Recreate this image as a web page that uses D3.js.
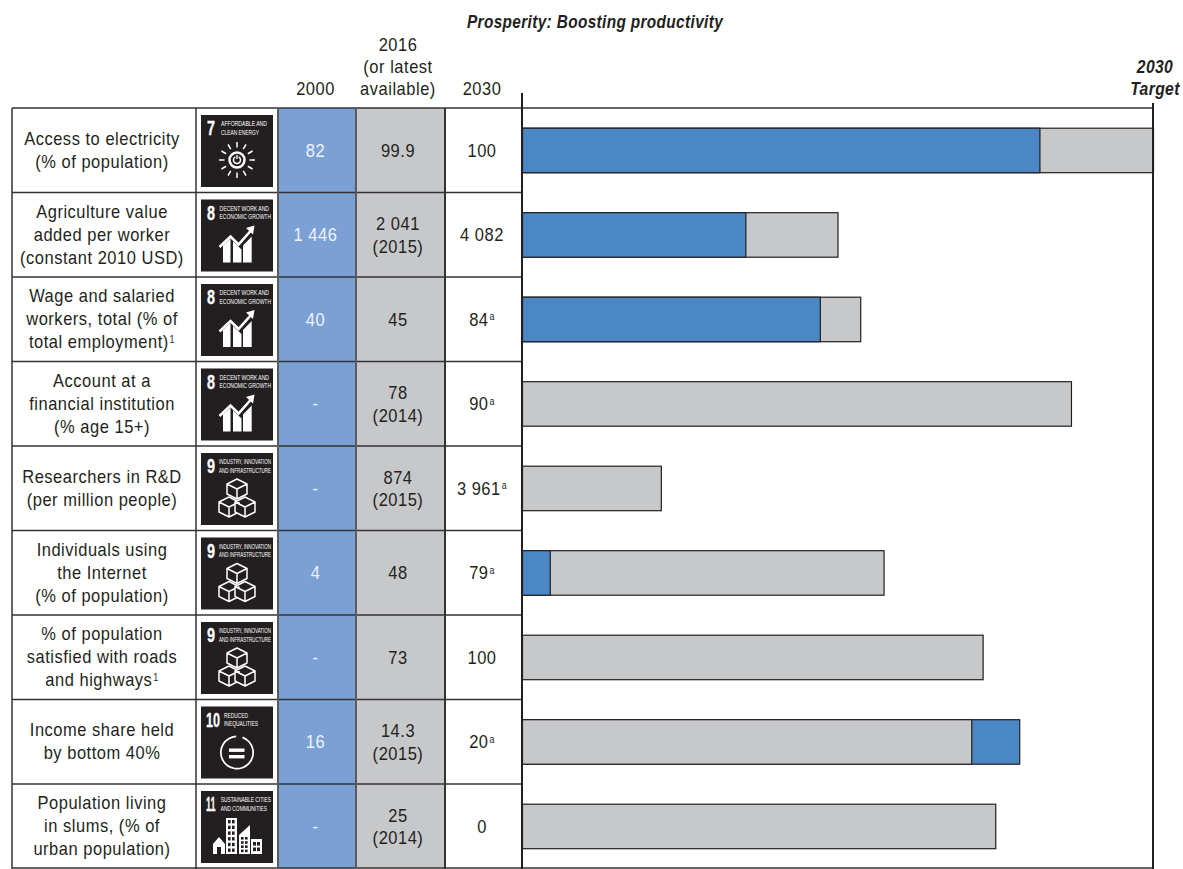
<!DOCTYPE html>
<html><head><meta charset="utf-8">
<script src="https://cdn.jsdelivr.net/npm/d3@7"></script>
<style>html,body{margin:0;background:#fff}svg{display:block}
text{font-family:"Liberation Sans",sans-serif;fill:#231f20}</style></head>
<body><svg id="c" width="1183" height="869"></svg>
<script>
const labels=[["Access to electricity","(% of population)"],["Agriculture value","added per worker","(constant 2010 USD)"],["Wage and salaried","workers, total (% of","total employment)|1"],["Account at a","financial institution","(% age 15+)"],["Researchers in R&D","(per million people)"],["Individuals using","the Internet","(% of population)"],["% of population","satisfied with roads","and highways|1"],["Income share held","by bottom 40%"],["Population living","in slums, (% of","urban population)"]];
const goals=[7,8,8,8,9,9,9,10,11];
const goalTitles={7:["AFFORDABLE AND","CLEAN ENERGY"],8:["DECENT WORK AND","ECONOMIC GROWTH"],9:["INDUSTRY, INNOVATION","AND INFRASTRUCTURE"],10:["REDUCED","INEQUALITIES"],11:["SUSTAINABLE CITIES","AND COMMUNITIES"]};
const col2000=["82","1 446","40","-","-","4","-","16","-"];
const colLatest=[["99.9"],["2 041","(2015)"],["45"],["78","(2014)"],["874","(2015)"],["48"],["73"],["14.3","(2015)"],["25","(2014)"]];
const col2030=["100","4 082","84|a","90|a","3 961|a","79|a","100","20|a","0"];
// progress towards target (percent of bar track)
const bar2000=[82,35.4,47.2,null,null,4.4,null,78.8,null];
const barLatest=[100,50,53.6,87,22,57.3,73,71.2,75];
const headers=[{x:315.5,lines:["2000"]},{x:398,lines:["2016","(or latest","available)"]},{x:482,lines:["2030"]}];

const ink="#231f20",blueCell="#7ba0d3",greyCell="#c6c8ca",blueBar="#4b86c5",greyBar="#c6c8ca";
const svg=d3.select("#c");
const n=labels.length;
const y=d3.scaleBand().domain(d3.range(n)).range([108,868.5]);
const x=d3.scaleLinear().domain([0,100]).range([522.5,1153.5]);
const colX=[12,196,278,356,445,522];
const fs=18.5, ls="0.6px", sx=0.89;

svg.selectAll(".c2000").data(d3.range(n)).join("rect").attr("x",colX[2]).attr("width",colX[3]-colX[2]).attr("y",i=>y(i)).attr("height",y.step()).attr("fill",blueCell);
svg.selectAll(".cLat").data(d3.range(n)).join("rect").attr("x",colX[3]).attr("width",colX[4]-colX[3]).attr("y",i=>y(i)).attr("height",y.step()).attr("fill",greyCell);

function line(x1,y1,x2,y2,w=1.5,c=ink){svg.append("line").attr("x1",x1).attr("y1",y1).attr("x2",x2).attr("y2",y2).attr("stroke",c).attr("stroke-width",w);}

d3.range(n+1).forEach(i=>{const yy=i==n?868:y(i);line(colX[0],yy,i==0||i==n?1153:colX[5],yy,1.5,"#333335");});
colX.slice(0,5).forEach((cx,i)=>line(cx,108,cx,869,i>=2?2:1.5,i==3||i==2?"#5a5b5e":"#333335"));
const bars=svg.append("g");
d3.range(n).forEach(i=>{
  const bh=44.5, by=y(i)+y.step()/2-bh/2+0.2;
  const mk=(v,f)=>bars.append("rect").attr("x",x(0)).attr("y",by).attr("width",x(v)-x(0)).attr("height",bh).attr("fill",f).attr("stroke",ink).attr("stroke-width",1.2);
  const a=bar2000[i],b=barLatest[i];
  if(a!=null&&a>b){mk(a,blueBar);mk(b,greyBar);}
  else{mk(b,greyBar);if(a!=null)mk(a,blueBar);}
});
line(522,93,522,869,2);
line(1153,103,1153,869,2);

function txt(s,cx,by,opt={}){
  const [m,sup]=s.split("|");
  const t=svg.append("text").attr("transform",`translate(${cx},${by}) scale(${opt.sx||sx},1)`).attr("text-anchor","middle").attr("font-size",opt.size||fs).attr("letter-spacing",ls).style("fill",opt.fill||ink);
  t.append("tspan").text(m);
  if(sup)t.append("tspan").attr("dy",-5.5).attr("dx",1).attr("font-size",10).text(sup);
  return t;
}
function block(lines,cx,cy,lh=23,opt){
  const h=(lines.length-1)*lh;
  lines.forEach((l,i)=>txt(l,cx,cy-h/2+i*lh+6.5,opt));
}
headers.forEach(h=>{const k=h.lines.length;h.lines.forEach((l,i)=>txt(l,h.x,94.5-(k-1-i)*22));});
svg.append("text").attr("transform","translate(595,28) scale(0.88,1)").attr("text-anchor","middle").attr("font-size",17.5).attr("font-weight","bold").attr("font-style","italic").attr("letter-spacing","0.4px").text("Prosperity: Boosting productivity");
["2030","Target"].forEach((s,i)=>svg.append("text").attr("transform",`translate(1155,${73+i*22}) scale(0.85,1)`).attr("text-anchor","middle").attr("font-size",18.5).attr("font-weight","bold").attr("font-style","italic").attr("letter-spacing","0.4px").text(s));

function drawIcon(i,ix,iy,s){
  const g=svg.append("g").attr("transform",`translate(${ix},${iy})`);
  g.append("rect").attr("width",s).attr("height",s).attr("fill",ink);
  const num=goals[i],tt=goalTitles[num];
  const nx=num>9?5:6, nsx=num==11?0.45:(num==10?0.63:0.72);
  g.append("text").attr("transform",`translate(${nx},20) scale(${nsx},1)`).attr("font-size",20).attr("font-weight","bold").attr("stroke","#fff").attr("stroke-width",0.3).style("fill","#fff").text(num);
  const ext={7:[[20,66],[20,58]],8:[[18.5,68],[18.5,70]],9:[[18,70],[18,70]],10:[[23,47],[23,57]],11:[[19.7,70],[19.7,66]]}[num];
  tt.forEach((l,k)=>g.append("text").attr("x",ext[k][0]).attr("y",11.3+k*8.6).attr("font-size",7.4).attr("textLength",ext[k][1]-ext[k][0]).attr("lengthAdjust","spacingAndGlyphs").style("fill","#fff").text(l));
  const W="#fff";
  if(num==7){
    const c=g.append("g").attr("transform","translate(36,45)");
    c.append("circle").attr("r",7.5).attr("fill","none").attr("stroke",W).attr("stroke-width",2.5);
    c.append("path").attr("d",d3.arc()({innerRadius:2.8,outerRadius:4.3,startAngle:.5,endAngle:Math.PI*2-.5})).attr("fill",W);
    c.append("line").attr("y1",-5).attr("y2",-1).attr("stroke",W).attr("stroke-width",1.4);
    d3.range(12).forEach(k=>{const a=k*Math.PI/6;c.append("line").attr("x1",Math.sin(a)*12.5).attr("y1",-Math.cos(a)*12.5).attr("x2",Math.sin(a)*18).attr("y2",-Math.cos(a)*18).attr("stroke",W).attr("stroke-width",1.5);});
  }
  if(num==8){
    g.append("path").attr("d","M22,63V46L29.5,39V63Z").attr("fill",W);
    g.append("path").attr("d","M32,63V42L40.5,50V63Z").attr("fill",W);
    g.append("path").attr("d","M42,63V46L50.7,37V63Z").attr("fill",W);
    g.append("path").attr("d","M18.5,47.5L29.5,37L37.5,45L50,31").attr("fill","none").attr("stroke",W).attr("stroke-width",2.6);
    g.append("path").attr("d","M45,28.5L53.5,26L52,35Z").attr("fill",W);
  }
  if(num==9){
    const cube=(cx,cy)=>{
      const r=10,hh=5;
      g.append("path").attr("d",`M${cx},${cy-hh*2}L${cx+r},${cy-hh}V${cy+hh}L${cx},${cy+hh*2}L${cx-r},${cy+hh}V${cy-hh}ZM${cx-r},${cy-hh}L${cx},${cy}L${cx+r},${cy-hh}M${cx},${cy}V${cy+hh*2}`).attr("fill",ink).attr("stroke",W).attr("stroke-width",1.5).attr("stroke-linejoin","round");
    };
    cube(36,36);cube(28,54);cube(44,54);
  }
  if(num==10){
    const a=d3.arc()({innerRadius:15.3,outerRadius:17,startAngle:.35,endAngle:Math.PI*2-.05});
    g.append("path").attr("transform","translate(36,46)").attr("d",a).attr("fill",W);
    g.append("rect").attr("x",28).attr("y",42).attr("width",15.5).attr("height",3.4).attr("fill",W);
    g.append("rect").attr("x",28).attr("y",48.5).attr("width",15.5).attr("height",3.4).attr("fill",W);
  }
  if(num==11){
    const bx=(x0,y0,w,h)=>g.append("rect").attr("x",x0).attr("y",y0).attr("width",w).attr("height",h).attr("fill",W);
    const win=(x0,y0,w,h)=>g.append("rect").attr("x",x0).attr("y",y0).attr("width",w).attr("height",h).attr("fill",ink);
    g.append("path").attr("d","M12,53L18,46L24,53V63H20V56H16V63H12Z").attr("fill",W);
    bx(25,27,11,36);
    d3.range(6).forEach(r=>[0,1].forEach(c=>win(27+c*4,29+r*5.7,2.6,3.4)));
    g.append("path").attr("d","M38,63V44L49,34V63Z").attr("fill",W);
    d3.range(4).forEach(r=>[0,1].forEach(c=>win(40+c*4,46+r*4.2,2.6,2.6)));
    bx(50,48,11,15);
    [0,1].forEach(c=>[0,1].forEach(r=>win(52+c*4,51+r*5.5,3,3.6)));
  }
}
d3.range(n).forEach(i=>{
  const cy=y(i)+y.step()/2;
  block(labels[i],102,cy-0.5,23);
  txt(col2000[i],315.5,cy+6.5,{fill:"#eef3fa"});
  block(colLatest[i],398,cy,22.5);
  txt(col2030[i],482,cy+6.5);
  drawIcon(i,201,y(i)+7,72);
});
</script></body></html>
